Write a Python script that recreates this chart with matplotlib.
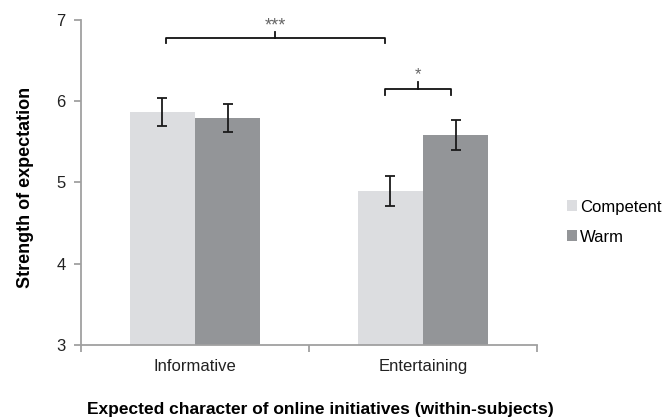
import numpy as np
import matplotlib.pyplot as plt

plt.rcParams['font.family'] = ['Liberation Sans', 'DejaVu Sans']

categories = ["Informative", "Entertaining"]
series = ["Competent", "Warm"]
means = {
    "Competent": [5.87, 4.90],
    "Warm": [5.79, 5.58],
}
err_low = {
    "Competent": [5.70, 4.71],
    "Warm": [5.62, 5.40],
}
err_high = {
    "Competent": [6.04, 5.08],
    "Warm": [5.96, 5.77],
}
colors = {"Competent": "#dcdde0", "Warm": "#939598"}

fig = plt.figure(figsize=(6.67, 4.2), dpi=100)
ax = fig.add_axes([0.1214, 0.1786, 0.6836, 0.7738])

x = np.arange(len(categories))
width = 0.287
for i, name in enumerate(series):
    pos = x + (i - 0.5) * width
    vals = np.array(means[name])
    lo = vals - np.array(err_low[name])
    hi = np.array(err_high[name]) - vals
    ax.bar(pos, vals - 3, bottom=3, width=width, color=colors[name],
           label=name, zorder=2)
    ax.errorbar(pos, vals, yerr=[lo, hi], fmt='none', ecolor='#1a1a1a',
                elinewidth=1.3, capsize=3.5, capthick=1.3, zorder=3)

ax.set_xlim(-0.5, 1.5)
ax.set_ylim(3, 7)
ax.set_yticks([3, 4, 5, 6, 7])
ax.set_xticks([-0.5, 0.5, 1.5], minor=True)
ax.set_xticks(x)
ax.set_xticklabels(categories)
ax.tick_params(axis='x', which='major', length=0, pad=10, labelsize=12,
               colors='#222222')
ax.tick_params(axis='x', which='minor', length=5, direction='out',
               color='#a0a0a0', width=1.3)
ax.tick_params(axis='y', length=5, direction='out', color='#a0a0a0',
               width=1.3, labelsize=12, labelcolor='#222222', pad=6)
for side in ['top', 'right']:
    ax.spines[side].set_visible(False)
for side in ['left', 'bottom']:
    ax.spines[side].set_color('#a0a0a0')
    ax.spines[side].set_linewidth(1.3)


def bracket(x0, x1, y, drop, rise, label, text_y, size):
    xm = (x0 + x1) / 2
    ax.plot([x0, x0, x1, x1], [y - drop, y, y, y - drop], color='#111111',
            lw=1.3, clip_on=False, zorder=4)
    ax.plot([xm, xm], [y, y + rise], color='#111111', lw=1.3,
            clip_on=False, zorder=4)
    ax.text(xm, text_y, label, ha='center', va='center', fontsize=size,
            color='#666666')


bracket(-0.127, 0.833, 6.78, 0.06, 0.07, "***", 6.93, 13)
bracket(0.833, 1.123, 6.15, 0.07, 0.09, "*", 6.33, 12)

ax.set_ylabel("Strength of expectation", fontsize=13, fontweight='bold',
              labelpad=16)
ax.set_xlabel("Expected character of online initiatives (within-subjects)",
              fontsize=12.5, fontweight='bold', labelpad=20)
ax.xaxis.label.set_x(0.524)
ax.yaxis.label.set_y(0.485)

ax.legend(loc='center left', bbox_to_anchor=(1.066, 0.378), frameon=False,
          fontsize=12, handlelength=0.6, handleheight=0.6,
          handletextpad=0.2, labelspacing=0.9, borderaxespad=0,
          borderpad=0)

fig.savefig("out.png", dpi=100)
